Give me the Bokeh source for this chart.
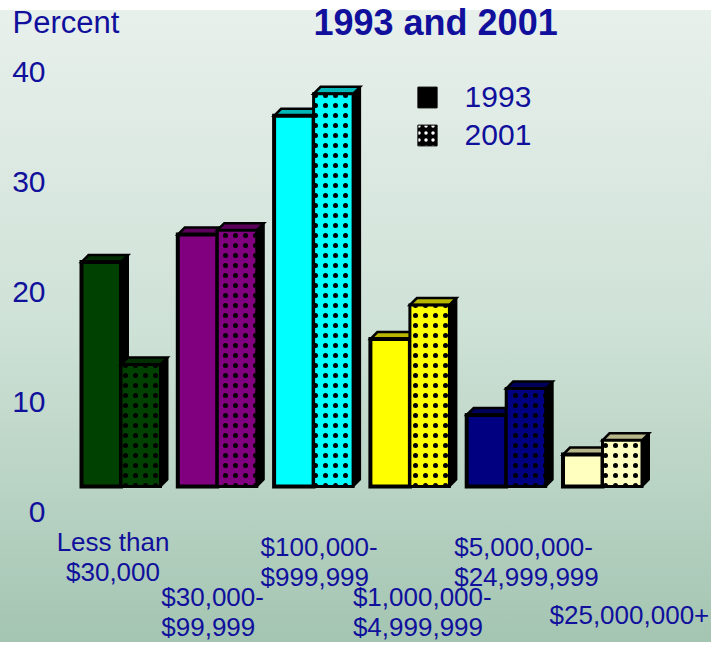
from bokeh.plotting import figure
from bokeh.models import (Range1d, ColumnDataSource, Legend, LegendItem, Label)
from bokeh.core.properties import value
from bokeh.embed import file_html
from bokeh.resources import INLINE

# ---------------- data ----------------
categories = ["Less than\n$30,000", "$30,000-\n$99,999", "$100,000-\n$999,999",
              "$1,000,000-\n$4,999,999", "$5,000,000-\n$24,999,999", "$25,000,000+"]
pct_1993 = [20.4, 22.9, 33.7, 13.4, 6.5, 2.9]
pct_2001 = [11.1, 23.3, 35.7, 16.5, 8.9, 4.2]
y_ticks = [0, 10, 20, 30, 40]
y_tick_labels = ["0", "10", "20", "30", "40"]
series_labels = ["1993", "2001"]
title_text = "1993 and 2001"
y_label = "Percent"

# ---------------- style / layout ----------------
bar_colors = ["#004000", "#800080", "#00FFFF", "#FFFF00", "#000080", "#FFFFC0"]
TEXT = "#10109C"
FONT = "Liberation Sans"

W, H = 711, 642
PX_X = 96.3      # pixels per category
PX_Y = 11.0      # pixels per percent
X_FIRST = 120.5  # px of first category centre
BASE = 486.0     # px of the 0 baseline of the bars
LABEL_SHIFT = 25.0  # tick labels sit lower than the bar baseline in the original
BAR_PX = 39.5
DEPTH_PX = 7.0

x0 = -X_FIRST / PX_X
x1 = x0 + W / PX_X
y1 = BASE / PX_Y
y0 = y1 - H / PX_Y


def fx(px):
    return x0 + px / PX_X


def fy(py):
    return y1 - py / PX_Y


def darker(hexcol, f=0.72):
    r, g, b = (int(hexcol[i:i + 2], 16) for i in (1, 3, 5))
    return "#%02x%02x%02x" % (int(r * f), int(g * f), int(b * f))


bw = BAR_PX / PX_X
ddx = DEPTH_PX / PX_X
ddy = DEPTH_PX / PX_Y

p = figure(width=W, height=H, x_range=Range1d(x0, x1), y_range=Range1d(y0, y1),
           x_axis_type=None, y_axis_type=None, toolbar_location=None,
           output_backend="svg", min_border=0)
p.border_fill_color = None
p.background_fill_color = None
p.outline_line_color = None
p.styles = {"background-image":
            "linear-gradient(to bottom, #FFFFFF 0px, #FFFFFF 10px, #E8F0EC 10px, "
            "#CFE2D7 50%, #A4C5B2 100%)"}

p.extra_y_ranges = {"lab": Range1d(y0 + LABEL_SHIFT / PX_Y, y1 + LABEL_SHIFT / PX_Y)}

# y tick labels
p.text(x=[x0] * len(y_ticks), y=y_ticks, text=y_tick_labels, y_range_name="lab",
       x_offset=45, text_align="right", text_baseline="middle",
       text_font_size="30px", text_color=TEXT, text_font=value(FONT))


def draw_series(vals, offset, front_kwargs):
    lefts = [i + offset for i in range(len(vals))]
    rights = [l + bw for l in lefts]
    side_xs = [[r, r, r + ddx, r + ddx] for r in rights]
    side_ys = [[0, v, v + ddy, ddy] for v in vals]
    top_xs = [[l, l + ddx, r + ddx, r] for l, r in zip(lefts, rights)]
    top_ys = [[v, v + ddy, v + ddy, v] for v in vals]
    p.patches(xs=side_xs, ys=side_ys, fill_color="black", line_color="black", line_width=2)
    p.patches(xs=top_xs, ys=top_ys, fill_color=[darker(c) for c in bar_colors],
              line_color="black", line_width=2.5, line_join="miter")
    return p.quad(left=lefts, right=rights, bottom=[0] * len(vals), top=vals,
                  fill_color=bar_colors, line_color="black", line_join="miter",
                  **front_kwargs)


draw_series(pct_1993, -bw, dict(line_width=4))
draw_series(pct_2001, 0.0, dict(line_width=3, hatch_pattern="dot", hatch_color="black",
                                 hatch_scale=10, hatch_alpha=1.0))

# legend swatches (hidden proxy renderers carry the swatch styles)
r93 = p.quad(left=[0], right=[0], top=[0], bottom=[0], fill_color="black",
             line_color="black", visible=False)
r01 = p.quad(left=[0], right=[0], top=[0], bottom=[0], fill_color="black",
             line_color="black", hatch_pattern="dot", hatch_color="white",
             hatch_scale=7, visible=False)
legend = Legend(items=[LegendItem(label=series_labels[0], renderers=[r93]),
                       LegendItem(label=series_labels[1], renderers=[r01])],
                location=(414.6, 490), glyph_width=24, glyph_height=26,
                label_standoff=26, spacing=4, padding=0, margin=0,
                background_fill_alpha=0, border_line_color=None,
                label_text_font_size="30px", label_text_color=TEXT,
                label_text_font=FONT)
p.add_layout(legend)

# category labels (staggered, as in the original slide)
label_dx = [-8, -56, -53, -57, -52, -53]
label_dy = [40, 95, 45, 95, 45, 113]
idx = list(range(len(categories)))
src_c = ColumnDataSource(dict(x=idx[:1], y=[0], text=categories[:1],
                              dx=label_dx[:1], dy=label_dy[:1]))
src_l = ColumnDataSource(dict(x=idx[1:], y=[0] * (len(idx) - 1), text=categories[1:],
                              dx=label_dx[1:], dy=label_dy[1:]))
for src, align in ((src_c, "center"), (src_l, "left")):
    p.text(x="x", y="y", text="text", x_offset="dx", y_offset="dy", source=src,
           text_align=align, text_baseline="top", text_font_size="26px",
           text_color=TEXT, text_font=value(FONT), text_line_height=1.017)

p.add_layout(Label(x=fx(313), y=fy(22), text=title_text, text_font_size="36px",
                   text_font_style="bold", text_color=TEXT, text_font=FONT,
                   text_baseline="alphabetic"))
p.add_layout(Label(x=fx(12), y=fy(22), text=y_label, text_font_size="31px",
                   text_color=TEXT, text_font=FONT, text_baseline="alphabetic"))

open("out.html", "w").write(file_html(p, INLINE))
